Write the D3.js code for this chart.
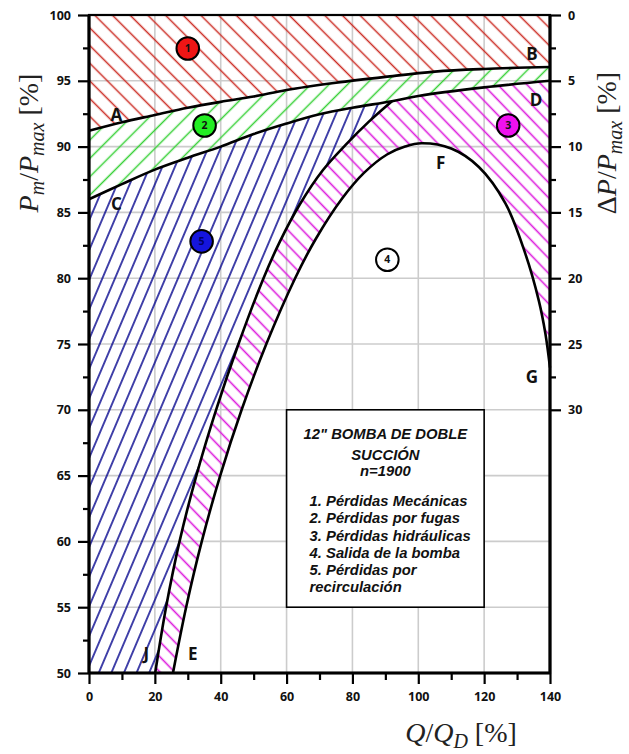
<!DOCTYPE html>
<html>
<head>
<meta charset="utf-8">
<script src="https://cdn.jsdelivr.net/npm/d3@7"></script>
<style>
  body { margin: 0; background: #fff; }
  svg { display: block; }
</style>
</head>
<body>
<script>
// ticks
const xMajor = [0, 20, 40, 60, 80, 100, 120, 140];
const xMinor = [10, 30, 50, 70, 90, 110, 130];
const yMajor = [50, 55, 60, 65, 70, 75, 80, 85, 90, 95, 100];
const yMinor = [52.5, 57.5, 62.5, 67.5, 72.5, 77.5, 82.5, 87.5, 92.5, 97.5];
const dpMajor = [0, 5, 10, 15, 20, 25, 30];
const dpMinor = [2.5, 7.5, 12.5, 17.5, 22.5, 27.5];

// curves [Q/QD %, Pm/Pmax %]
const curveA = [[0, 91.2], [10, 91.85], [20, 92.4], [30, 92.95], [40, 93.4], [50, 93.8], [60, 94.3],
  [75, 94.85], [90, 95.3], [105, 95.7], [120, 95.9], [140, 96.05]];
const curveC = [[0, 86.0], [10, 87.15], [20, 88.25], [30, 89.15], [40, 90.0], [50, 90.95], [60, 91.75],
  [70, 92.45], [80, 92.95], [92, 93.45], [100, 93.85], [120, 94.5], [140, 95.0]];
const curveJ = [[20.1, 50], [23.4, 55], [27.5, 60], [32.6, 65], [38.6, 70], [45.4, 75], [53, 80],
  [58, 82.8], [64, 85.6], [71, 88.2], [78, 90.15], [85, 91.9], [92, 93.45]];
const curveE = [[25.5, 50], [29.5, 55], [34.25, 60], [39.85, 65], [46.35, 70], [53.85, 75], [62.6, 80],
  [68.9, 83], [76.7, 86], [83.5, 88], [90.5, 89.4], [96, 90.0], [101, 90.25], [110, 89.85],
  [118.4, 88.45], [126.5, 85.67], [132.5, 81.87], [136.6, 78.3], [138.6, 75.8], [140, 73.2]];

// numbered markers and curve letters
const markers = [
  { id: "1", q: 30, p: 97.45 },
  { id: "2", q: 35.1, p: 91.6 },
  { id: "3", q: 127.3, p: 91.6 },
  { id: "4", q: 90.6, p: 81.4 },
  { id: "5", q: 34.2, p: 82.8 }
];
const letters = [
  { t: "A", q: 8.3, p: 92.4 }, { t: "B", q: 134.5, p: 97.07 },
  { t: "C", q: 8.3, p: 85.67 }, { t: "D", q: 135.8, p: 93.57 },
  { t: "F", q: 106.8, p: 88.78 }, { t: "G", q: 134.5, p: 72.5 },
  { t: "J", q: 17.4, p: 51.47 }, { t: "E", q: 31.5, p: 51.47 }
];
const legendTitle = ["12\" BOMBA DE DOBLE", "SUCCIÓN", "n=1900"];
const legendItems = ["1. Pérdidas Mecánicas", "2. Pérdidas por fugas", "3. Pérdidas hidráulicas",
  "4. Salida de la bomba", "5. Pérdidas por", "recirculación"];

const colors = { red: "#cc2e26", green: "#38d038", blue: "#06068e", magenta: "#dd1fdd" };
const markerFill = { "1": "#ee1515", "2": "#22ee22", "3": "#ee11ee", "4": "#ffffff", "5": "#1515dd" };

const W = 629, H = 754;
const x = d3.scaleLinear().domain([0, 140]).range([89, 550]);
const y = d3.scaleLinear().domain([50, 100]).range([673, 15]);
const yR = d3.scaleLinear().domain([0, 50]).range([15, 673]);

const svg = d3.select("body").append("svg").attr("width", W).attr("height", H);
const defs = svg.append("defs");

function hatch(id, color, spacing, angle, width) {
  const p = defs.append("pattern")
    .attr("id", id)
    .attr("patternUnits", "userSpaceOnUse")
    .attr("width", spacing).attr("height", spacing)
    .attr("patternTransform", `rotate(${angle})`);
  p.append("line")
    .attr("x1", spacing / 2).attr("x2", spacing / 2)
    .attr("y1", -1).attr("y2", spacing + 1)
    .attr("stroke", color).attr("stroke-width", width);
}
hatch("hRed", colors.red, 12.5, -45, 1.5);
hatch("hGreen", colors.green, 13, 45, 1.5);
hatch("hBlue", colors.blue, 11.6, 23, 1.5);
hatch("hMag", colors.magenta, 10.5, -44, 1.6);

// grid
const grid = svg.append("g").attr("stroke", "#cccccc").attr("stroke-width", 1.6);
grid.selectAll(".gx").data(xMajor.slice(1, -1)).join("line")
  .attr("x1", d => x(d)).attr("x2", d => x(d)).attr("y1", y(50)).attr("y2", y(100));
grid.selectAll(".gy").data(yMajor.slice(1, -1)).join("line")
  .attr("x1", x(0)).attr("x2", x(140)).attr("y1", d => y(d)).attr("y2", d => y(d));

const line = d3.line().x(d => x(d[0])).y(d => y(d[1])).curve(d3.curveCatmullRom.alpha(0.5));
const back = pts => line(pts.slice().reverse()).replace(/^M/, "L");

const jEnd = curveJ[curveJ.length - 1][0];
const cLeft = curveC.filter(d => d[0] <= jEnd);
const cRight = curveC.filter(d => d[0] >= jEnd);

// hatched regions
const regions = svg.append("g");
regions.append("path").attr("fill", "url(#hRed)")
  .attr("d", `M${x(0)},${y(100)}L${x(140)},${y(100)}` + back(curveA) + "Z");
regions.append("path").attr("fill", "url(#hGreen)")
  .attr("d", line(curveA) + back(curveC) + "Z");
regions.append("path").attr("fill", "url(#hBlue)")
  .attr("d", `M${x(0)},${y(50)}` + line(cLeft).replace(/^M/, "L") + back(curveJ) + "Z");
regions.append("path").attr("fill", "url(#hMag)")
  .attr("d", line(curveJ) + line(cRight).replace(/^M/, "L") + back(curveE) + "Z");

// curves
svg.append("g").attr("fill", "none").attr("stroke", "#000").attr("stroke-width", 2.6)
  .selectAll("path").data([curveA, curveC, curveJ, curveE]).join("path")
  .attr("d", line);

// legend box
const lg = svg.append("g");
const bx0 = x(60), bx1 = x(120), by0 = y(70), by1 = y(55);
lg.append("rect").attr("x", bx0).attr("y", by0).attr("width", bx1 - bx0).attr("height", by1 - by0)
  .attr("fill", "#fff").attr("stroke", "#000").attr("stroke-width", 1.6);
lg.selectAll(".t").data(legendTitle).join("text")
  .attr("x", (bx0 + bx1) / 2).attr("y", (d, i) => by0 + [29.5, 50, 66.5][i])
  .attr("text-anchor", "middle");
lg.selectAll(".i").data(legendItems).join("text")
  .attr("x", bx0 + 23).attr("y", (d, i) => by0 + 96.5 + i * 17.1);
lg.selectAll("text").text(d => d)
  .attr("font-family", "Liberation Sans, Arial, sans-serif")
  .attr("font-weight", "bold").attr("font-style", "italic").attr("font-size", 14.8)
  .attr("fill", "#111");

// markers
const mk = svg.append("g").selectAll("g").data(markers).join("g")
  .attr("transform", d => `translate(${x(d.q)},${y(d.p)})`);
mk.append("circle").attr("r", 11.3).attr("fill", d => markerFill[d.id])
  .attr("stroke", "#000").attr("stroke-width", 2);
mk.append("text").text(d => d.id)
  .attr("text-anchor", "middle").attr("dy", "0.35em")
  .attr("font-family", "Open Sans, sans-serif").attr("font-size", 10.5).attr("font-weight", 700)
  .attr("fill", d => d.id === "5" ? "#000066" : "#111");

// curve letters
svg.append("g").selectAll("text").data(letters).join("text")
  .attr("x", d => x(d.q)).attr("y", d => y(d.p)).attr("dy", "0.36em")
  .attr("text-anchor", "middle")
  .attr("font-family", "Open Sans, sans-serif").attr("font-weight", 700).attr("font-size", 17)
  .attr("fill", "#111").text(d => d.t);

// frame
svg.append("rect").attr("x", x(0)).attr("y", y(100)).attr("width", x(140) - x(0)).attr("height", y(50) - y(100))
  .attr("fill", "none").attr("stroke", "#000").attr("stroke-width", 2.2);
svg.append("g").attr("stroke", "#000").attr("stroke-width", 3.2)
  .selectAll("line").data([[x(0), y(100), x(0), y(50)], [x(0), y(50), x(140), y(50)], [x(140), y(100), x(140), y(50)]])
  .join("line").attr("x1", d => d[0]).attr("y1", d => d[1]).attr("x2", d => d[2]).attr("y2", d => d[3]);

// axes
function styleAxis(g, labels) {
  g.select(".domain").remove();
  g.selectAll(".tick line").attr("stroke", "#000").attr("stroke-width", 2.2);
  g.selectAll(".tick text").attr("font-family", "Open Sans, sans-serif")
    .attr("font-weight", 700).attr("font-size", 12.5).attr("fill", "#111");
  if (!labels) g.selectAll(".tick text").remove();
}
svg.append("g").attr("transform", `translate(${x(0)},0)`)
  .call(d3.axisLeft(y).tickValues(yMajor).tickSize(11).tickPadding(7).tickFormat(d3.format("d")))
  .call(g => styleAxis(g, true));
svg.append("g").attr("transform", `translate(${x(0)},0)`)
  .call(d3.axisLeft(y).tickValues(yMinor).tickSize(6))
  .call(g => styleAxis(g, false));
svg.append("g").attr("transform", `translate(0,${y(50)})`)
  .call(d3.axisBottom(x).tickValues(xMajor).tickSize(11).tickPadding(8).tickFormat(d3.format("d")))
  .call(g => styleAxis(g, true));
svg.append("g").attr("transform", `translate(0,${y(50)})`)
  .call(d3.axisBottom(x).tickValues(xMinor).tickSize(7))
  .call(g => styleAxis(g, false));
svg.append("g").attr("transform", `translate(${x(140)},0)`)
  .call(d3.axisRight(yR).tickValues(dpMajor).tickSize(11).tickPadding(7).tickFormat(d3.format("d")))
  .call(g => styleAxis(g, true));
svg.append("g").attr("transform", `translate(${x(140)},0)`)
  .call(d3.axisRight(yR).tickValues(dpMinor).tickSize(6))
  .call(g => styleAxis(g, false));

// axis titles: [text, italic, 1 = subscript / -1 = back to baseline]
function mathLabel(t, parts) {
  t.attr("font-family", "Liberation Serif, DejaVu Serif, serif").attr("font-size", 28).attr("fill", "#222");
  parts.forEach(([s, italic, sub]) => {
    t.append("tspan").text(s)
      .attr("font-style", italic ? "italic" : "normal")
      .attr("font-size", sub === 1 ? 20 : null)
      .attr("dy", sub === 1 ? 6 : sub === -1 ? -6 : null);
  });
}
const tl = svg.append("text").attr("text-anchor", "middle")
  .attr("transform", "translate(38,143) rotate(-90)");
mathLabel(tl, [["P", 1], ["m", 1, 1], ["/", 0, -1], ["P", 1], ["max", 1, 1], [" [%]", 0, -1]]);
const tr = svg.append("text").attr("text-anchor", "middle")
  .attr("transform", "translate(616,143) rotate(-90)");
mathLabel(tr, [["Δ", 0], ["P", 1], ["/", 0], ["P", 1], ["max", 1, 1], [" [%]", 0, -1]]);
const tb = svg.append("text").attr("text-anchor", "middle")
  .attr("transform", "translate(461,742)");
mathLabel(tb, [["Q", 1], ["/", 0], ["Q", 1], ["D", 1, 1], [" [%]", 0, -1]]);
</script>
</body>
</html>
